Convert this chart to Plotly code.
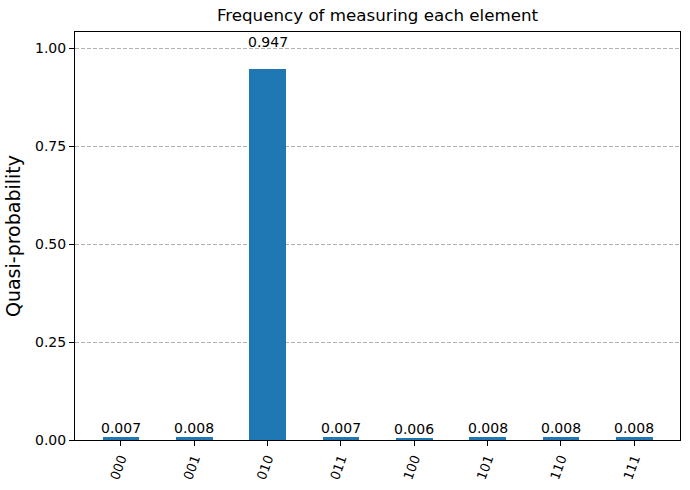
import plotly.graph_objects as go

categories = ["000", "001", "010", "011", "100", "101", "110", "111"]
values = [0.007, 0.008, 0.947, 0.007, 0.006, 0.008, 0.008, 0.008]
labels = ["0.007", "0.008", "0.947", "0.007", "0.006", "0.008", "0.008", "0.008"]
y_ticks = [0.0, 0.25, 0.5, 0.75, 1.0]
y_tick_text = ["0.00", "0.25", "0.50", "0.75", "1.00"]

font = "DejaVu Sans"

fig = go.Figure()
fig.add_trace(go.Bar(
    x=list(range(len(categories))),
    y=values,
    width=0.5,
    marker=dict(color="#1f77b4", line=dict(width=0)),
    hoverinfo="skip",
))

for i, (v, lab) in enumerate(zip(values, labels)):
    fig.add_annotation(
        x=i, y=1.05 * v, xref="x", yref="y",
        text=lab, showarrow=False, yanchor="bottom", xanchor="center",
        font=dict(family=font, size=14, color="black"), borderpad=0,
    )

fig.update_layout(
    width=690, height=490,
    margin=dict(l=75, r=10, t=32, b=50, autoexpand=False),
    paper_bgcolor="white", plot_bgcolor="white",
    font=dict(family=font, size=14, color="black"),
    title=dict(text="Frequency of measuring each element", x=0.5, xref="paper", xanchor="center",
               y=1, yref="container", yanchor="top", pad=dict(t=9),
               font=dict(family=font, size=16.7, color="black")),
    showlegend=False,
    bargap=0,
)
fig.update_xaxes(
    range=[-0.625, 7.625],
    tickmode="array", tickvals=list(range(len(categories))), ticktext=categories,
    tickangle=-70,
    ticks="outside", ticklen=5, tickcolor="black",
    showline=True, linecolor="black", linewidth=1, mirror=True,
    showgrid=False, zeroline=False, automargin=False,
    tickfont=dict(family=font, size=13, color="black"),
)
fig.update_yaxes(
    range=[0, 0.947 * 1.1],
    tickmode="array", tickvals=y_ticks, ticktext=y_tick_text,
    ticks="outside", ticklen=5, tickcolor="black",
    showline=True, linecolor="black", linewidth=1, mirror=True,
    showgrid=True, gridcolor="#b0b0b0", griddash="4px,2px", gridwidth=1,
    zeroline=False, automargin=False,
    title=dict(text="Quasi-probability", font=dict(family=font, size=19, color="black"), standoff=9),
    tickfont=dict(family=font, size=14, color="black"),
)

fig.write_html("out.html", config={"displayModeBar": False},
               post_script="document.body.style.margin='0';")
